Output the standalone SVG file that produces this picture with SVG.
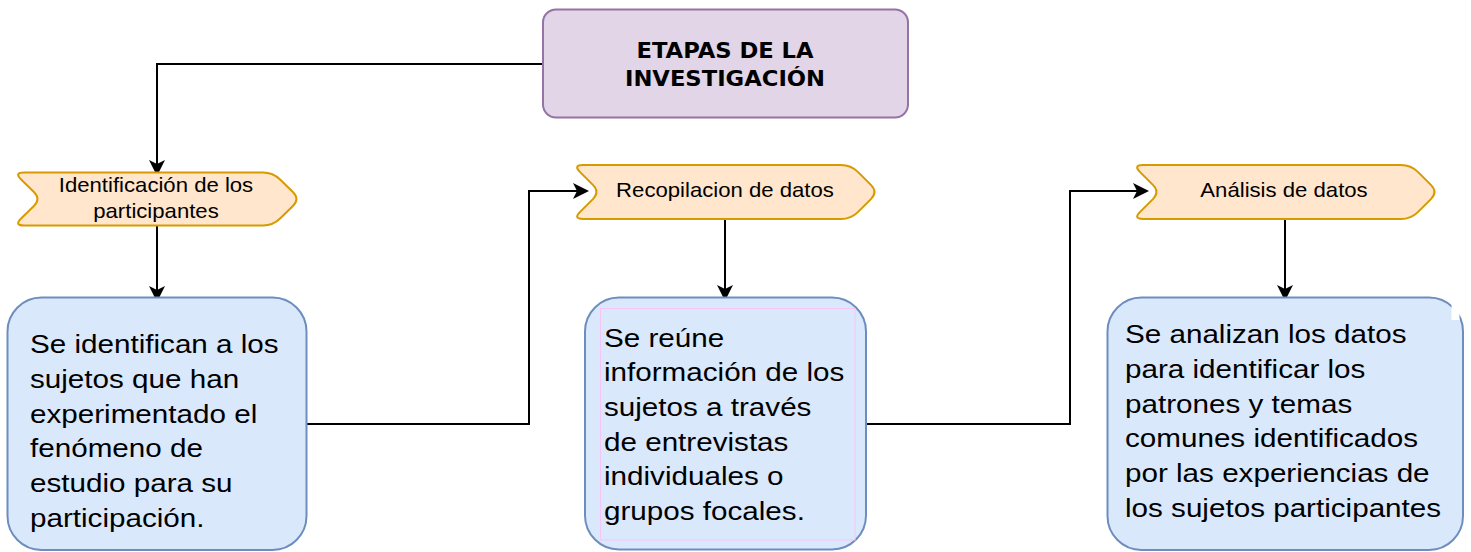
<svg xmlns="http://www.w3.org/2000/svg" width="1471" height="552" viewBox="0 0 1471 552">
<style>
.box{fill:#dae8fc;stroke:#6c8ebf;stroke-width:2}
.ban{fill:#ffe6cc;stroke:#d79b00;stroke-width:2}
.ttl{fill:#e1d5e7;stroke:#9673a6;stroke-width:2}
.bt{font-family:"Liberation Sans",Arial,sans-serif;font-size:26px;fill:#000}
.nt{font-family:"Liberation Sans",Arial,sans-serif;font-size:20.5px;fill:#000;text-anchor:middle}
.tt{font-family:"DejaVu Sans",Verdana,sans-serif;font-weight:bold;font-size:21px;fill:#000;text-anchor:middle}
.con{fill:none;stroke:#000;stroke-width:2;marker-end:url(#arr)}
</style>
<defs>
<marker id="arr" markerUnits="userSpaceOnUse" markerWidth="22" markerHeight="20" viewBox="-18 -10 22 20" refX="-4" refY="0" orient="auto">
<path d="M0,0 L-16,-8 L-12,0 L-16,8 Z" fill="#000"/>
</marker>
<path id="banR" d="M583,165 L841,165 Q851,165 858.1,172.1 L870.9,184.9 Q878,192 870.9,199.1 L858.1,211.9 Q851,219 841,219 L583,219 Q573,219 580.1,211.9 L592.9,199.1 Q600,192 592.9,184.9 L580.1,172.1 Q573,165 583,165 Z"/>
</defs>
<rect width="1471" height="552" fill="#fff"/>

<g id="connectors">
<path class="con" d="M543,64 L157,64 L157,172"/>
<path class="con" d="M157,226 L157,298"/>
<path class="con" d="M306,424 L529,424 L529,191 L585,191"/>
<path class="con" d="M725,219 L725,297"/>
<path class="con" d="M865,424 L1070,424 L1070,191 L1145,191"/>
<path class="con" d="M1285,219 L1285,297"/>
</g>

<g id="title">
<rect class="ttl" x="543" y="9.5" width="365" height="108" rx="13"/>
<text class="tt" transform="matrix(1.08 0 0 1 725 0)"><tspan x="0" y="58.3">ETAPAS DE LA</tspan><tspan x="0" y="86">INVESTIGACIÓN</tspan></text>
</g>

<g id="stage1">
<path class="ban" d="M24,172.5 L263,172.5 Q273,172.5 280.1,179.5 L292.9,192 Q300,199 292.9,206 L280.1,218.5 Q273,225.5 263,225.5 L24,225.5 Q14,225.5 21.1,218.5 L33.9,206 Q41,199 33.9,192 L21.1,179.5 Q14,172.5 24,172.5 Z"/>
<text class="nt" transform="matrix(1.08 0 0 1 156 0)"><tspan x="0" y="192.3">Identificación de los</tspan><tspan x="0" y="218.3">participantes</tspan></text>
</g>

<g id="stage2">
<use href="#banR" class="ban"/>
<text class="nt" transform="matrix(1.08 0 0 1 725 0)"><tspan x="0" y="197.3">Recopilacion de datos</tspan></text>
</g>

<g id="stage3">
<use href="#banR" class="ban" transform="translate(560 0)"/>
<text class="nt" transform="matrix(1.08 0 0 1 1284 0)"><tspan x="0" y="197.3">Análisis de datos</tspan></text>
</g>

<g id="desc1">
<rect class="box" x="7.5" y="297.5" width="299" height="252.5" rx="34"/>
<text class="bt" transform="matrix(1.14 0 0 1 30 0)"><tspan x="0" y="353.3">Se identifican a los</tspan><tspan x="0" y="388">sujetos que han</tspan><tspan x="0" y="422.7">experimentado el</tspan><tspan x="0" y="457.4">fenómeno de</tspan><tspan x="0" y="492.1">estudio para su</tspan><tspan x="0" y="527">participación.</tspan></text>
</g>

<g id="desc2">
<rect class="box" x="585" y="297.5" width="281" height="252" rx="34"/>
<rect x="600.5" y="308.5" width="254.5" height="231.5" fill="none" stroke="#f7c4f7" stroke-width="1"/>
<text class="bt" transform="matrix(1.14 0 0 1 604 0)"><tspan x="0" y="346.7">Se reúne</tspan><tspan x="0" y="381.5">información de los</tspan><tspan x="0" y="416.1">sujetos a través</tspan><tspan x="0" y="450.8">de entrevistas</tspan><tspan x="0" y="485.5">individuales o</tspan><tspan x="0" y="520.2">grupos focales.</tspan></text>
</g>

<g id="desc3">
<rect class="box" x="1107.5" y="297.5" width="355.5" height="252.5" rx="34"/>
<rect x="1451.5" y="303" width="8" height="17" fill="#fff"/>
<text class="bt" transform="matrix(1.14 0 0 1 1125 0)"><tspan x="0" y="343.3">Se analizan los datos</tspan><tspan x="0" y="378">para identificar los</tspan><tspan x="0" y="412.7">patrones y temas</tspan><tspan x="0" y="447.4">comunes identificados</tspan><tspan x="0" y="482.1">por las experiencias de</tspan><tspan x="0" y="516.8">los sujetos participantes</tspan></text>
</g>
</svg>
